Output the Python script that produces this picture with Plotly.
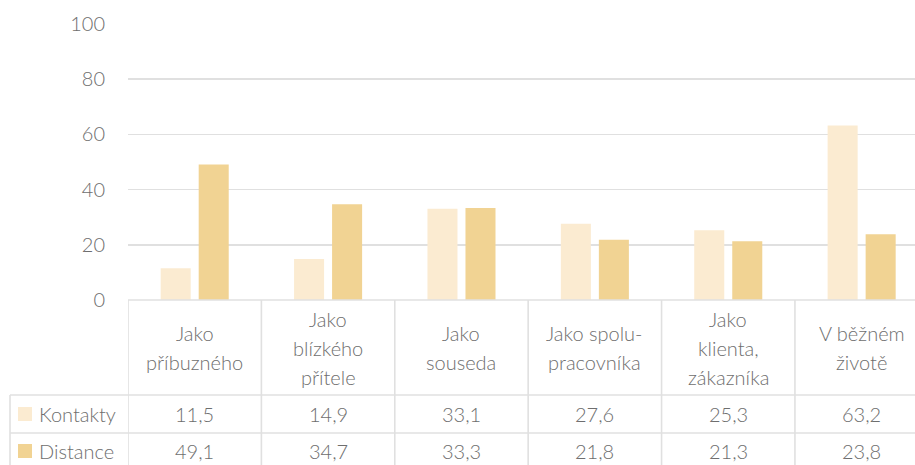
import plotly.graph_objects as go

categories = ["Jako<br>příbuzného", "Jako<br>blízkého<br>přítele", "Jako<br>souseda",
              "Jako spolu-<br>pracovníka", "Jako<br>klienta,<br>zákazníka", "V běžném<br>životě"]
series_names = ["Kontakty", "Distance"]
kontakty = [11.5, 14.9, 33.1, 27.6, 25.3, 63.2]
distance = [49.1, 34.7, 33.3, 21.8, 21.3, 23.8]
series_values = [kontakty, distance]
colors = ["#FBEBD1", "#F1D393"]
y_ticks = [0, 20, 40, 60, 80, 100]

W, H = 915, 465
ML, MT, MB = 128, 24, 165
PH = H - MT - MB
FONT = "Lato, 'Open Sans', sans-serif"
TXT = "#6e6e6e"
LINE = "#e0e0e0"
FS = 20
FW = 300

def py(p):  # pixel y -> paper y
    return (H - MB - p) / PH

def px(p):  # pixel x -> paper x
    return (p - ML) / (W - ML)

def fnt():
    return dict(size=FS, color=TXT, family=FONT, weight=FW)

xs = list(range(len(categories)))
fig = go.Figure()
for name, vals, col in zip(series_names, series_values, colors):
    fig.add_trace(go.Bar(x=xs, y=vals, name=name, marker=dict(color=col, line=dict(width=0)),
                         showlegend=False, hoverinfo="skip"))

shapes = []
annotations = []
# table grid
top_y, row1_y, row2_y, bot_y = 300, 395, 433, 480
shapes.append(dict(type="line", xref="paper", yref="paper", x0=0, x1=1.05, y0=py(top_y), y1=py(top_y),
                   line=dict(color=LINE, width=1.6)))
for yy in (row1_y, row2_y):
    shapes.append(dict(type="line", xref="paper", yref="paper", x0=px(10), x1=1.05, y0=py(yy), y1=py(yy),
                       line=dict(color=LINE, width=1.6)))
shapes.append(dict(type="line", xref="paper", yref="paper", x0=px(10), x1=px(10), y0=py(row1_y), y1=py(bot_y),
                   line=dict(color=LINE, width=1.6)))
for i in range(len(categories) + 1):
    shapes.append(dict(type="line", xref="x", yref="paper", x0=i - 0.5, x1=i - 0.5, y0=py(top_y), y1=py(bot_y),
                       line=dict(color=LINE, width=1.6)))

# header labels
hdr_c = (top_y + row1_y) / 2
lh = 29
for i, cat in enumerate(categories):
    lines = cat.split("<br>")
    n = len(lines)
    for k, t in enumerate(lines):
        yc = hdr_c + (k - (n - 1) / 2) * lh
        annotations.append(dict(x=i, y=py(yc), xref="x", yref="paper", text=t, showarrow=False,
                                xanchor="center", yanchor="middle", font=fnt()))

# rows
row_centers = [(row1_y + row2_y) / 2, (row2_y + 469) / 2]
for name, vals, col, rc in zip(series_names, series_values, colors, row_centers):
    shapes.append(dict(type="rect", xref="paper", yref="paper", x0=px(18), x1=px(32), y0=py(rc + 7), y1=py(rc - 7),
                       fillcolor=col, line=dict(width=0)))
    annotations.append(dict(x=px(37), y=py(rc), xref="paper", yref="paper", text=name, showarrow=False,
                            xanchor="left", yanchor="middle", font=fnt()))
    for i, v in enumerate(vals):
        annotations.append(dict(x=i, y=py(rc), xref="x", yref="paper", text=f"{v:.1f}".replace(".", ","),
                                showarrow=False, xanchor="center", yanchor="middle", font=fnt()))

fig.update_layout(
    width=W, height=H,
    margin=dict(l=ML, r=0, t=MT, b=MB, pad=0),
    paper_bgcolor="white", plot_bgcolor="white",
    barmode="group", bargap=0.43, bargroupgap=0.21,
    font=fnt(),
    xaxis=dict(range=[-0.5, 5.4], showticklabels=False, showgrid=False, zeroline=False, showline=False,
               fixedrange=True),
    yaxis=dict(range=[0, 100], tickvals=y_ticks, ticktext=[str(t) for t in y_ticks],
               showgrid=True, gridcolor=LINE, gridwidth=1.6, zeroline=False, showline=False,
               ticks="", ticklabelstandoff=22, tickfont=fnt(), fixedrange=True),
    shapes=shapes, annotations=annotations,
)

fig.write_html("out.html", config={"displayModeBar": False, "staticPlot": True})

# remove default page margin so the figure sits at the window's top-left corner
with open("out.html", "r", encoding="utf-8") as f:
    html = f.read()
html = html.replace("<body>", '<body style="margin:0;padding:0;overflow:hidden">', 1)
with open("out.html", "w", encoding="utf-8") as f:
    f.write(html)
